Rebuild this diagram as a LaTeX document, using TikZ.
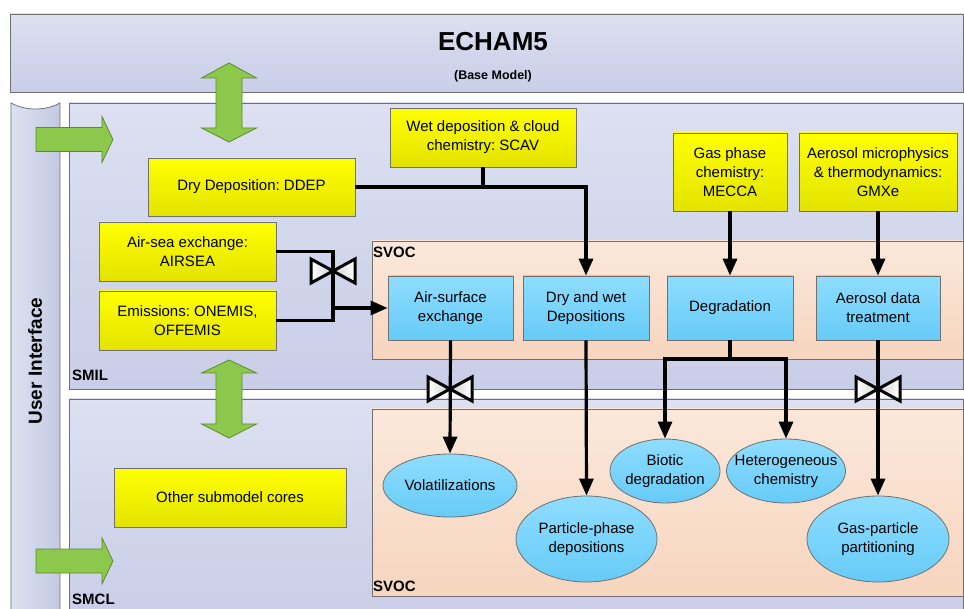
\documentclass[tikz,border=0pt]{standalone}
\usepackage{fontspec}
\setmainfont{Liberation Sans}
\usetikzlibrary{arrows.meta,shapes.geometric,calc}
\definecolor{edgegray}{HTML}{707070}
\definecolor{panelT}{HTML}{DCE0F1}
\definecolor{panelB}{HTML}{C9CDE7}
\definecolor{uiL}{HTML}{DDE1F1}
\definecolor{uiR}{HTML}{C4C9E4}
\definecolor{svocT}{HTML}{FBE8DB}
\definecolor{svocB}{HTML}{F7D5BE}
\definecolor{yelT}{HTML}{FFFF00}
\definecolor{yelB}{HTML}{E3E300}
\definecolor{bluT}{HTML}{8FDDFF}
\definecolor{bluB}{HTML}{66CBF7}
\definecolor{gfill}{HTML}{8CC84B}
\definecolor{gedge}{HTML}{5C8A2E}
\begin{document}
\frenchspacing
\begin{tikzpicture}[x=1pt,y=-1pt,
  font=\fontsize{15}{19}\selectfont\frenchspacing,
  panel/.style={draw=edgegray, line width=0.8pt, top color=panelT, bottom color=panelB},
  svocbox/.style={draw=edgegray, line width=0.8pt, top color=svocT, bottom color=svocB},
  ybox/.style={draw=edgegray, line width=0.8pt, top color=yelT, bottom color=yelB, align=center, inner sep=2pt},
  bbox/.style={draw=edgegray, line width=0.8pt, top color=bluT, bottom color=bluB, align=center, inner sep=2pt, minimum height=64pt},
  bell/.style={ellipse, draw=edgegray, line width=0.8pt, top color=bluT, bottom color=bluB, inner sep=0pt},
  wire/.style={line width=3.2pt},
  conn/.style={line width=3.2pt, -{Triangle[length=17pt,width=14pt]}},
  garrow/.style={draw=gedge, fill=gfill, line width=0.8pt, line join=miter},
  valveshape/.style={draw=black, line width=3pt, left color=white, right color=black!18, line join=miter},
  lab/.style={font=\fontsize{15}{18}\selectfont\bfseries, anchor=west, inner sep=0pt},
  valvepic/.pic={
    \path[valveshape] (-22,-12) -- (-22,12) -- (0,0) -- cycle;
    \path[valveshape, left color=black!18, right color=white] (22,-12) -- (22,12) -- (0,0) -- cycle;
  }]
\useasboundingbox (0,0) rectangle (964,609);
\clip (0,0) rectangle (964,609);
\fill[white] (0,0) rectangle (964,609);

% background panels
\draw[panel] (10,14) rectangle (963.5,92.5);
\path[draw=edgegray, line width=0.8pt, left color=uiL, right color=uiR]
  (11,103) .. controls (25,111) and (46,111) .. (60,103) -- (60,620) -- (11,620) -- cycle;
\draw[panel] (69,103) rectangle (963.5,389);
\draw[panel] (69,399) rectangle (963.5,620);
\draw[svocbox] (372,241) rectangle (963,359);
\draw[svocbox] (372,409) rectangle (963,596);

% labels
\node[font=\fontsize{26}{30}\selectfont\bfseries] (echam) at (493,42) {ECHAM5};
\node[font=\fontsize{12.5}{15}\selectfont\bfseries] (base) at (493,76) {(Base Model)};
\node[font=\fontsize{19}{22}\selectfont\bfseries, rotate=90] (ui) at (35,361) {User Interface};
\node[lab] (smil) at (72,375) {SMIL};
\node[lab] (smcl) at (72,599) {SMCL};
\node[lab] (svoca) at (373,252) {SVOC};
\node[lab] (svocb) at (373,586) {SVOC};

% green arrows
\draw[garrow] (229,63) -- (256.5,78) -- (242,78) -- (242,128) -- (256.5,128) -- (229,142)
  -- (201.5,128) -- (216,128) -- (216,78) -- (201.5,78) -- cycle;
\draw[garrow] (229,360) -- (256.5,373) -- (242,373) -- (242,424) -- (256.5,424) -- (229,438)
  -- (201.5,424) -- (216,424) -- (216,373) -- (201.5,373) -- cycle;
\draw[garrow] (36,127.5) -- (102,127.5) -- (102,116.5) -- (113,139.5) -- (102,162.5) -- (102,151.5) -- (36,151.5) -- cycle;
\draw[garrow] (36,549) -- (102,549) -- (102,538) -- (113,561) -- (102,584) -- (102,573) -- (36,573) -- cycle;

% yellow boxes
\node[ybox, minimum width=207pt, minimum height=58pt] (ddep) at (251.5,187) {Dry Deposition: DDEP};
\node[ybox, minimum width=186pt, minimum height=59pt] (scav) at (483,137.5) {Wet deposition \& cloud\\chemistry: SCAV};
\node[ybox, minimum width=114pt, minimum height=78pt] (gas) at (730,172) {Gas phase\\chemistry:\\MECCA};
\node[ybox, minimum width=158pt, minimum height=78pt] (aer) at (878,172) {Aerosol microphysics\\\& thermodynamics:\\GMXe};
\node[ybox, minimum width=177pt, minimum height=59pt] (airsea) at (187.5,251.5) {Air-sea exchange:\\AIRSEA};
\node[ybox, minimum width=177pt, minimum height=59pt] (emis) at (187.5,320.5) {Emissions: ONEMIS,\\OFFEMIS};
\node[ybox, minimum width=232pt, minimum height=59pt] (other) at (230,497.5) {Other submodel cores};

% blue boxes
\node[bbox, minimum width=125pt] (ase) at (450.5,308) {Air-surface\\exchange};
\node[bbox, minimum width=126pt] (dw) at (586,308) {Dry and wet\\Depositions};
\node[bbox, minimum width=126pt] (deg) at (730,308) {Degradation};
\node[bbox, minimum width=124pt] (adt) at (878,308) {Aerosol data\\treatment};

% ellipses
\node[bell, minimum width=134pt, minimum height=63pt, label={[align=center]center:Volatilizations}] (vol) at (450,485.5) {};
\node[bell, minimum width=141pt, minimum height=86pt, label={[align=center]center:Particle-phase\\depositions}] (ppd) at (586.5,539) {};
\node[bell, minimum width=110pt, minimum height=64pt, label={[align=center]center:Biotic\\degradation}] (bio) at (665,471) {};
\node[bell, minimum width=119pt, minimum height=64pt, label={[align=center]center:Heterogeneous\\chemistry}] (het) at (786,471) {};
\node[bell, minimum width=142pt, minimum height=86pt, label={[align=center]center:Gas-particle\\partitioning}] (gpp) at (878,539) {};

% connectors
\draw[conn] (ddep.east) -| (dw.north);
\draw[wire] (scav.south) -- (scav.south |- ddep.east);
\coordinate (jn) at (333,308);
\draw[wire] (airsea.east) -| (jn);
\draw[wire] (emis.east) -| (jn);
\draw[conn] (jn) -- (ase.west);
\draw[conn] (gas.south) -- (deg.north);
\draw[conn] (aer.south) -- (adt.north);
\draw[conn] (ase.south) -- (vol.north);
\draw[conn] (dw.south) -- (ppd.north);
\coordinate (dsplit) at (730,359);
\draw[wire] (deg.south) -- (dsplit);
\draw[conn] (dsplit) -| (bio.north);
\draw[conn] (dsplit) -| (het.north);
\draw[conn] (adt.south) -- (gpp.north);

% valves
\pic at (333,271) {valvepic};
\pic at (450,389) {valvepic};
\pic at (878,389) {valvepic};
\end{tikzpicture}
\end{document}
